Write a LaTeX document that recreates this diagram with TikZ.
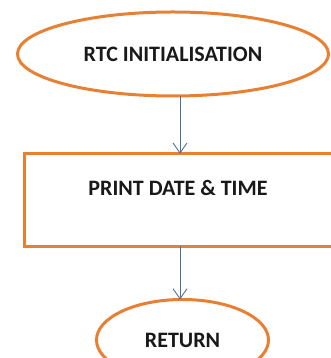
\documentclass[tikz,border=0pt]{standalone}
\usepackage{fontspec}
\setmainfont{Carlito}
\usetikzlibrary{shapes.geometric,arrows.meta}
\definecolor{boxorange}{RGB}{232,128,52}
\definecolor{arrowblue}{RGB}{80,112,160}
\begin{document}
\begin{tikzpicture}[x=1pt,y=1pt,
  shapebox/.style={draw=boxorange, line width=3pt, fill=white, inner sep=0pt, outer sep=0pt},
  txt/.style={font=\bfseries\fontsize{22}{26}\selectfont, text=black!90},
  arr/.style={draw=arrowblue, line width=0.9pt, -{Straight Barb[length=10pt,width=14pt]}}]
\useasboundingbox (0,0) rectangle (331,358);
\fill[white] (0,0) rectangle (331,358);
\clip (0,0) rectangle (331,358);
\node[shapebox, ellipse, minimum width=311pt, minimum height=84pt, txt] (rtc) at (173,304) {RTC INITIALISATION};
\node[shapebox, rectangle, minimum width=312pt, minimum height=92.5pt] (print) at (180,158) {};
\node[txt] (printlbl) at (178,170) {PRINT DATE \& TIME};
\node[shapebox, ellipse, minimum width=172pt, minimum height=81pt, txt] (ret) at (182.5,18) {RETURN};
\draw[arr] (print.north |- rtc.south) -- (print.north);
\draw[arr] (print.south) -- (print.south |- ret.north);
\end{tikzpicture}
\end{document}
